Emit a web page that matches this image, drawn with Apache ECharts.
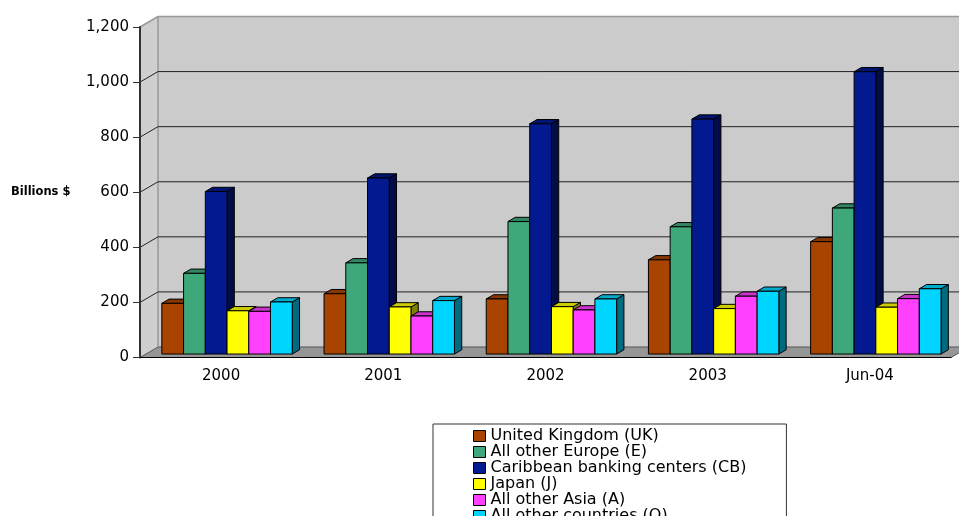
<!DOCTYPE html>
<html>
<head>
<meta charset="utf-8">
<script src="https://cdn.jsdelivr.net/npm/echarts@6/dist/echarts.min.js"></script>
<style>
  html, body { margin: 0; padding: 0; background: #fff; }
  #chart { width: 959px; height: 516px; }
</style>
</head>
<body>
<div id="chart"></div>
<script>
var categories = ['2000', '2001', '2002', '2003', 'Jun-04'];
var seriesNames = [
  'United Kingdom (UK)',
  'All other Europe (E)',
  'Caribbean banking centers (CB)',
  'Japan (J)',
  'All other Asia (A)',
  'All other countries (O)'
];
var seriesColors = ['#a84300', '#3ea87a', '#03198f', '#ffff00', '#ff40ff', '#00d5ff'];

var ukValues = [184, 219, 200, 342, 408];
var europeValues = [293, 331, 481, 462, 530];
var caribbeanValues = [590, 639, 836, 853, 1025];
var japanValues = [157, 171, 172, 165, 170];
var asiaValues = [155, 138, 160, 210, 201];
var otherValues = [189, 194, 200, 228, 237];
var yTicks = [0, 200, 400, 600, 800, 1000, 1200];

var allValues = [ukValues, europeValues, caribbeanValues, japanValues, asiaValues, otherValues];

// 3D 深度偏移 (像素)
var DX = 18, DY = -10.5;
var FRONT = 0.33, BAR_DEPTH = 0.405;

function shade(hex, f) {
  var n = parseInt(hex.slice(1), 16);
  var r = Math.round(((n >> 16) & 255) * f);
  var g = Math.round(((n >> 8) & 255) * f);
  var b = Math.round((n & 255) * f);
  return 'rgb(' + r + ',' + g + ',' + b + ')';
}

function barRenderer(s, color) {
  return function (params, api) {
    var i = api.value(0), v = api.value(1);
    var base = api.coord([i, 0]);
    var top = api.coord([i, v]);
    var w = api.size([1, 0])[0] * 0.134;
    var fx = DX * FRONT, fy = DY * FRONT;
    var bx = DX * BAR_DEPTH, by = DY * BAR_DEPTH;
    var x0 = base[0] - 3 * w + s * w + fx;
    var x1 = x0 + w;
    var y0 = base[1] + fy;
    var y1 = top[1] + fy;
    var line = { stroke: '#000', lineWidth: 1 };
    return {
      type: 'group',
      children: [{
        type: 'polygon',
        shape: { points: [[x1, y1], [x1 + bx, y1 + by], [x1 + bx, y0 + by], [x1, y0]] },
        style: Object.assign({ fill: shade(color, 0.5) }, line)
      }, {
        type: 'polygon',
        shape: { points: [[x0, y1], [x1, y1], [x1 + bx, y1 + by], [x0 + bx, y1 + by]] },
        style: Object.assign({ fill: shade(color, 0.8) }, line)
      }, {
        type: 'rect',
        shape: { x: x0, y: y1, width: w, height: y0 - y1 },
        style: Object.assign({ fill: color }, line)
      }]
    };
  };
}

var series = [{
  // 背景墙和地板
  type: 'custom',
  name: 'frame',
  silent: true,
  data: [[0, 0]],
  renderItem: function (params, api) {
    var cs = params.coordSys;
    var l = cs.x, r = cs.x + cs.width, t = cs.y, b = cs.y + cs.height;
    return {
      type: 'group',
      children: [{
        type: 'polygon',
        shape: { points: [[l + DX, t + DY], [r + DX + 40, t + DY], [r + DX + 40, b + DY], [l + DX, b + DY]] },
        style: { fill: '#cbcbcb' }
      }, {
        type: 'polygon',
        shape: { points: [[l, t], [l + DX, t + DY], [l + DX, b + DY], [l, b]] },
        style: { fill: '#cfcfcf' }
      }, {
        type: 'polygon',
        shape: { points: [[l, b], [r, b], [r + DX, b + DY], [l + DX, b + DY]] },
        style: { fill: '#969696', stroke: '#555', lineWidth: 1 }
      }, {
        type: 'polyline',
        shape: { points: [[l, t], [l + DX, t + DY], [r + DX + 40, t + DY]] },
        style: { fill: null, stroke: '#999', lineWidth: 1.5 }
      }, {
        type: 'line',
        shape: { x1: l + DX, y1: t + DY, x2: l + DX, y2: b + DY },
        style: { stroke: '#999', lineWidth: 1.5 }
      }]
    };
  }
}, {
  // 网格线
  type: 'custom',
  name: 'gridlines',
  silent: true,
  data: yTicks.slice(1, -1).map(function (v) { return [0, v]; }),
  renderItem: function (params, api) {
    var cs = params.coordSys;
    var p = api.coord([0, api.value(1)]);
    var l = cs.x, r = cs.x + cs.width;
    return {
      type: 'polyline',
      shape: { points: [[l, p[1]], [l + DX, p[1] + DY], [r + DX + 40, p[1] + DY]] },
      style: { fill: null, stroke: '#222', lineWidth: 1 }
    };
  }
}];

seriesNames.forEach(function (name, s) {
  series.push({
    type: 'custom',
    name: name,
    itemStyle: { color: seriesColors[s] },
    data: allValues[s].map(function (v, i) { return [i, v]; }),
    renderItem: barRenderer(s, seriesColors[s])
  });
});

var myChart = echarts.init(document.getElementById('chart'));
var option = {
  animation: false,
  backgroundColor: '#fff',
  title: {
    text: 'Billions $',
    left: 11,
    top: 186,
    padding: 0,
    textStyle: { fontFamily: 'DejaVu Sans', fontSize: 11.5, fontWeight: 'bold', color: '#000' }
  },
  grid: { left: 140, top: 27, right: 8, bottom: 158.5 },
  xAxis: {
    type: 'category',
    data: categories,
    z: 10,
    axisLine: { lineStyle: { color: '#000', width: 1 } },
    axisTick: { length: 6, lineStyle: { color: '#000' } },
    axisLabel: { margin: 11, color: '#000', fontFamily: 'DejaVu Sans', fontSize: 15 },
    splitLine: { show: false }
  },
  yAxis: {
    type: 'value',
    min: 0,
    max: 1200,
    interval: 200,
    z: 10,
    axisLine: { show: true, lineStyle: { color: '#333', width: 2 } },
    axisTick: { show: true, length: 7, lineStyle: { color: '#333' } },
    axisLabel: {
      margin: 11,
      color: '#000',
      fontFamily: 'DejaVu Sans',
      fontSize: 15,
      formatter: function (v) { return v.toLocaleString('en-US'); }
    },
    splitLine: { show: false }
  },
  legend: {
    data: seriesNames,
    orient: 'vertical',
    left: 433,
    top: 424,
    height: 200,
    padding: [4, 40, 4, 40],
    borderColor: '#333',
    borderWidth: 1,
    icon: 'rect',
    itemWidth: 12,
    itemHeight: 11,
    itemGap: 0,
    itemStyle: { borderColor: '#000', borderWidth: 1 },
    textStyle: { fontFamily: 'DejaVu Sans', fontSize: 16, lineHeight: 15.5, color: '#000' }
  },
  series: series
};
myChart.setOption(option);
</script>
</body>
</html>
